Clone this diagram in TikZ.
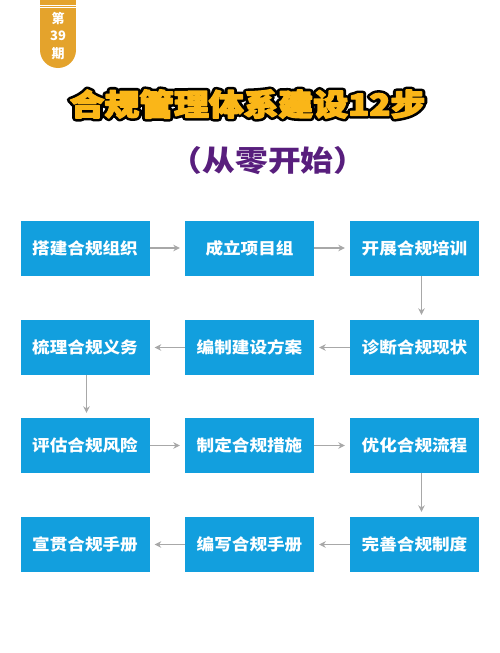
\documentclass[tikz,border=0pt]{standalone}
\usepackage{fontspec}
\usepackage{graphicx}
\usetikzlibrary{arrows.meta}
\newfontfamily\cjk{Noto Sans CJK SC}
\definecolor{boxblue}{RGB}{18,159,222}
\definecolor{arrowgray}{RGB}{168,168,168}
\definecolor{titleyellow}{RGB}{250,182,24}
\definecolor{subpurple}{RGB}{88,30,125}
\definecolor{badgeorange}{RGB}{228,163,44}
\newcommand{\hs}[1]{\scalebox{1.1}[1]{#1}}
\newcommand{\titletext}{\scalebox{1.16}[1]{合规管理体系建设12步}}
\newcommand{\strokedtext}[2]{{\special{pdf:literal direct 2 Tr #1 w 1 j}#2\special{pdf:literal direct 0 Tr 0.4 w}}}
\begin{document}
\begin{tikzpicture}[x=1pt,y=-1pt,
  stepbox/.style={fill=boxblue, minimum width=129, minimum height=55, inner sep=0,
    text=white, font=\cjk\bfseries\fontsize{16}{16}\selectfont},
  flow/.style={draw=arrowgray, line width=1.4, -{Stealth[length=6.5,width=6.5]}, shorten >=5},
  titlefont/.style={inner sep=0, font=\cjk\bfseries\fontsize{30}{30}\selectfont},
  badgetext/.style={inner sep=0, text=white, font=\cjk\bfseries\fontsize{13}{13}\selectfont}]
\useasboundingbox[fill=white] (0,0) rectangle (500,653);

% badge
\fill[badgeorange] (40,0) rectangle (76,50);
\fill[badgeorange] (58,50) circle (18);
\draw[white, line width=0.7] (40,5) -- (76,5);
\draw[white, line width=0.7] (40,7.6) -- (76,7.6);
\node[badgetext] (b1) at (58,18.5) {第};
\node[badgetext] (b2) at (58,36) {39};
\node[badgetext] (b3) at (58,53.5) {期};

% title with black outline (stroked copy beneath the filled text)
\node[titlefont, text=black] (titleoutline) at (247.5,104) {\strokedtext{6.4}{\titletext}};
\node[titlefont, text=titleyellow] (title) at (247.5,104) {\strokedtext{1.3}{\titletext}};

\node[inner sep=0, text=subpurple, font=\cjk\bfseries\fontsize{29}{29}\selectfont] (subtitle) at (268,161) {\scalebox{1.13}[1]{（从零开始）}};

% steps
\node[stepbox] (n1) at (85,248) {\hs{搭建合规组织}};
\node[stepbox] (n2) at (249.5,248) {\hs{成立项目组}};
\node[stepbox] (n3) at (414.5,248) {\hs{开展合规培训}};
\node[stepbox] (n4) at (414.5,347.5) {\hs{诊断合规现状}};
\node[stepbox] (n5) at (249.5,347.5) {\hs{编制建设方案}};
\node[stepbox] (n6) at (85,347.5) {\hs{梳理合规义务}};
\node[stepbox] (n7) at (85,445.5) {\hs{评估合规风险}};
\node[stepbox] (n8) at (249.5,445.5) {\hs{制定合规措施}};
\node[stepbox] (n9) at (414.5,445.5) {\hs{优化合规流程}};
\node[stepbox] (n10) at (414.5,544.5) {\hs{完善合规制度}};
\node[stepbox] (n11) at (249.5,544.5) {\hs{编写合规手册}};
\node[stepbox] (n12) at (85,544.5) {\hs{宣贯合规手册}};

% connectors
\draw[flow] (n1) -- (n2);
\draw[flow] (n2) -- (n3);
\draw[flow] ([xshift=7]n3.south) -- ([xshift=7]n4.north);
\draw[flow] (n4) -- (n5);
\draw[flow] (n5) -- (n6);
\draw[flow] ([xshift=1.5]n6.south) -- ([xshift=1.5]n7.north);
\draw[flow] (n7) -- (n8);
\draw[flow] (n8) -- (n9);
\draw[flow] ([xshift=7]n9.south) -- ([xshift=7]n10.north);
\draw[flow] (n10) -- (n11);
\draw[flow] (n11) -- (n12);
\end{tikzpicture}
\end{document}
